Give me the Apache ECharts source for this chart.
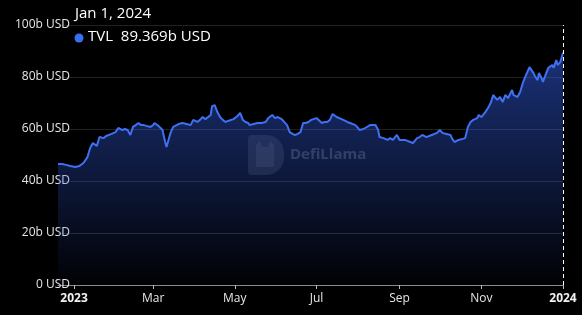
<!DOCTYPE html>
<html>
<head>
<meta charset="utf-8">
<script src="https://cdn.jsdelivr.net/npm/echarts@6/dist/echarts.min.js"></script>
<style>
html,body{margin:0;padding:0;background:#000;}
#c{width:582px;height:315px;}
</style>
</head>
<body>
<div id="c"></div>
<script>
var dates = [
'2022-12-20','2022-12-23','2022-12-26','2022-12-29','2023-01-02','2023-01-05','2023-01-08','2023-01-11','2023-01-13','2023-01-15',
'2023-01-18','2023-01-20','2023-01-23','2023-01-25','2023-01-26','2023-01-29','2023-02-01','2023-02-03','2023-02-06','2023-02-08',
'2023-02-10','2023-02-12','2023-02-14','2023-02-16','2023-02-18','2023-02-20','2023-02-22','2023-02-24','2023-02-27','2023-03-01',
'2023-03-02','2023-03-05','2023-03-08','2023-03-10','2023-03-11','2023-03-14','2023-03-16','2023-03-17','2023-03-20','2023-03-21',
'2023-03-23','2023-03-26','2023-03-29','2023-03-31','2023-04-03','2023-04-05','2023-04-07','2023-04-09','2023-04-10','2023-04-13',
'2023-04-14','2023-04-16','2023-04-18','2023-04-20','2023-04-22','2023-04-24','2023-04-26','2023-04-27','2023-04-30','2023-05-01',
'2023-05-03','2023-05-05','2023-05-07','2023-05-09','2023-05-11','2023-05-12','2023-05-15','2023-05-18','2023-05-21','2023-05-24',
'2023-05-26','2023-05-29','2023-05-31','2023-06-02','2023-06-05','2023-06-06','2023-06-09','2023-06-11','2023-06-13','2023-06-15',
'2023-06-17','2023-06-19','2023-06-21','2023-06-23','2023-06-25','2023-06-27','2023-06-28','2023-07-01','2023-07-02','2023-07-05',
'2023-07-07','2023-07-09','2023-07-11','2023-07-13','2023-07-16','2023-07-17','2023-07-21','2023-07-24','2023-07-26','2023-07-30',
'2023-08-01','2023-08-02','2023-08-05','2023-08-06','2023-08-10','2023-08-14','2023-08-16','2023-08-17','2023-08-20','2023-08-23',
'2023-08-25','2023-08-27','2023-08-30','2023-09-01','2023-09-05','2023-09-09','2023-09-11','2023-09-14','2023-09-16','2023-09-18',
'2023-09-21','2023-09-25','2023-09-29','2023-10-01','2023-10-03','2023-10-06','2023-10-09','2023-10-10','2023-10-12','2023-10-15',
'2023-10-18','2023-10-20','2023-10-22','2023-10-24','2023-10-26','2023-10-29','2023-10-30','2023-11-01','2023-11-04','2023-11-06',
'2023-11-08','2023-11-10','2023-11-11','2023-11-13','2023-11-15','2023-11-17','2023-11-19','2023-11-21','2023-11-24','2023-11-25',
'2023-11-28','2023-11-30','2023-12-02','2023-12-05','2023-12-07','2023-12-10','2023-12-11','2023-12-13','2023-12-14','2023-12-16',
'2023-12-17','2023-12-19','2023-12-21','2023-12-24','2023-12-25','2023-12-27','2023-12-28','2023-12-30','2024-01-01'
];
var tvl = [
46.5,46.5,46.2,45.8,45.4,45.8,46.9,49.2,52.7,54.6,
53.5,56.9,56.5,57.3,57.7,58.1,58.8,60.4,59.6,60.0,
59.6,57.7,60.8,61.5,62.3,61.5,61.5,61.2,60.8,61.5,
62.3,61.2,59.6,55.0,53.1,58.5,60.8,61.5,61.9,62.3,
62.3,61.9,61.5,63.5,62.7,63.5,64.6,63.8,64.2,65.4,
68.8,69.2,66.5,64.6,63.5,62.7,63.1,63.5,63.8,64.2,
65.0,66.2,63.5,62.7,62.3,61.5,61.9,62.3,62.3,62.7,
64.2,65.4,64.2,64.6,63.8,63.5,61.5,58.8,58.1,57.7,
58.1,58.8,62.3,62.3,62.7,63.5,64.2,64.2,64.2,62.3,
62.7,62.7,63.5,65.8,64.6,64.2,63.5,62.7,62.3,61.5,
60.4,59.6,60.0,60.4,61.5,61.5,59.6,56.9,56.5,55.8,
56.5,55.8,57.7,55.8,55.8,55.0,54.6,56.5,56.9,57.7,
56.9,57.7,58.5,59.6,58.5,58.1,57.7,56.5,55.0,55.8,
56.2,56.5,60.8,62.7,63.5,64.2,65.4,64.6,66.5,68.1,
70.0,73.1,72.3,71.2,72.3,70.4,73.1,71.9,75.0,73.1,
72.3,74.2,77.7,81.5,83.8,81.5,80.4,78.8,81.5,79.6,
78.1,80.8,83.5,84.6,83.5,86.5,84.6,85.8,89.369
];
var yTicks = [0, 20, 40, 60, 80, 100];
var xTickDates = ['2023-01-01','2023-03-01','2023-05-01','2023-07-01','2023-09-01','2023-11-01','2024-01-01'];
var xTickLabels = ['2023','Mar','May','Jul','Sep','Nov','2024'];
var seriesName = 'TVL';
var tooltipDate = 'Jan 1, 2024';

function ts(s){ var p = s.split('-'); return Date.UTC(+p[0], +p[1]-1, +p[2]); }
var xTickTs = xTickDates.map(ts);
var data = dates.map(function(d,i){ return [ts(d), tvl[i]]; });
var last = tvl[tvl.length-1];

var chart = echarts.init(document.getElementById('c'), null, {renderer:'canvas'});
var FONT = '"Open Sans", "Noto Sans", sans-serif';
chart.setOption({
  backgroundColor: '#000',
  animation: false,
  grid: {left: 58, right: 19, top: 25, bottom: 30, containLabel: false},
  xAxis: {
    type: 'value',
    min: ts(dates[0]),
    max: ts(dates[dates.length-1]),
    axisLine: {show: true, onZero: false, lineStyle: {color: '#8a8a8a', width: 1}},
    axisTick: {show: true, length: 4, lineStyle: {color: '#bbbbbb'}, customValues: xTickTs},
    splitLine: {show: false},
    axisLabel: {
      customValues: xTickTs,
      showMinLabel: true, showMaxLabel: true,
      color: '#e6e6e6', fontSize: 12, fontFamily: FONT, margin: 8,
      formatter: function(v){
        var i = xTickTs.indexOf(v);
        var t = i >= 0 ? xTickLabels[i] : '';
        return (t === '2023' || t === '2024') ? '{b|' + t + '}' : t;
      },
      rich: {b: {fontWeight: 'bold', color: '#f2f2f2', fontSize: 12, fontFamily: FONT}}
    }
  },
  yAxis: {
    type: 'value', min: 0, max: 100, interval: 20,
    axisLine: {show: false}, axisTick: {show: false},
    splitLine: {show: true, lineStyle: {color: '#222222', width: 1}},
    axisLabel: {
      color: '#e6e6e6', fontSize: 12, fontFamily: FONT, margin: -12,
      formatter: function(v){ return v === 0 ? '0 USD' : v + 'b USD'; }
    }
  },
  graphic: [
    {type: 'rect', left: 248, top: 135, silent: true,
     shape: {width: 36, height: 40, r: [4, 18, 18, 4]},
     style: {fill: 'rgba(255,255,255,0.10)'}},
    {type: 'polygon', left: 256, top: 141, silent: true,
     shape: {points: [[0,4],[4,0],[6,6],[12,6],[14,0],[18,4],[18,26],[0,26]]},
     style: {fill: 'rgba(255,255,255,0.08)'}},
    {type: 'text', left: 290, top: 147, silent: true,
     style: {text: 'DefiLlama', fill: 'rgba(255,255,255,0.2)', font: 'bold 15px ' + FONT}},
    {type: 'text', left: 75, top: 6, silent: true,
     style: {text: tooltipDate, fill: '#ffffff', font: '15px ' + FONT}},
    {type: 'circle', shape: {cx: 79, cy: 38, r: 4.5}, style: {fill: '#3c6ef0'}, silent: true},
    {type: 'text', left: 88, top: 29, silent: true,
     style: {text: seriesName + '  ' + last.toFixed(3) + 'b USD', fill: '#ffffff', font: '15px ' + FONT}}
  ],
  series: [{
    type: 'line',
    name: seriesName,
    data: data,
    showSymbol: false,
    smooth: false,
    lineStyle: {color: '#3f70f2', width: 2},
    itemStyle: {color: '#3f70f2'},
    areaStyle: {
      color: new echarts.graphic.LinearGradient(0, 0, 0, 1, [
        {offset: 0, color: 'rgba(48,88,215,0.8)'},
        {offset: 1, color: 'rgba(48,88,215,0.03)'}
      ])
    },
    markLine: {
      silent: true, symbol: 'none', animation: false,
      label: {show: false},
      lineStyle: {color: '#ffffff', type: [4, 3], width: 1},
      data: [{xAxis: ts(dates[dates.length-1])}]
    }
  }]
});
</script>
</body>
</html>
